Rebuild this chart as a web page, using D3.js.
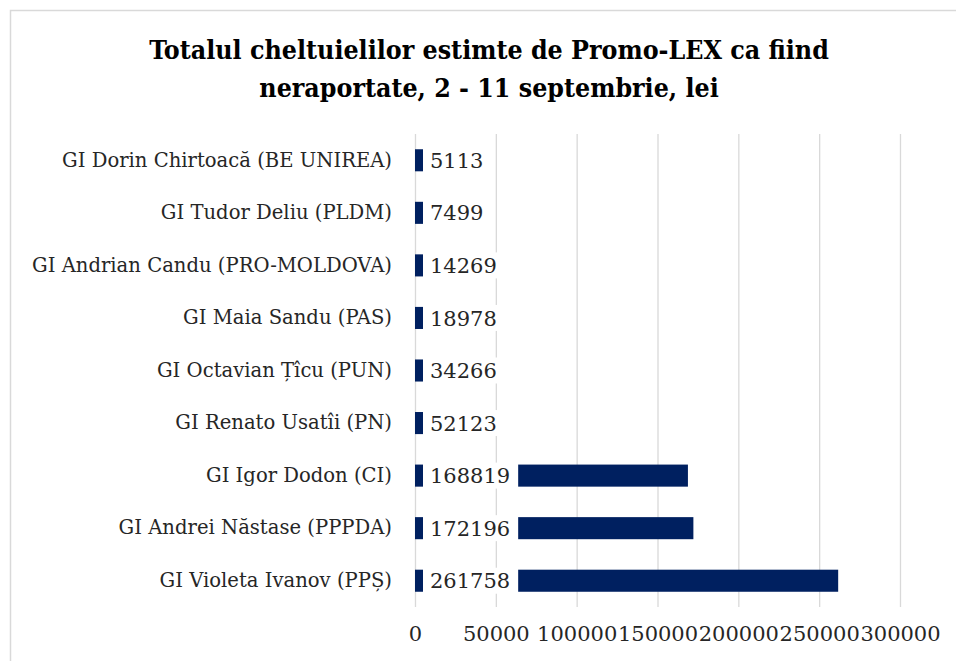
<!DOCTYPE html>
<html><head><meta charset="utf-8">
<script src="https://cdn.jsdelivr.net/npm/d3@7"></script>
<style>body{margin:0;background:#fff}svg{display:block}</style>
</head><body>
<script>
const categories = ["GI Dorin Chirtoacă (BE UNIREA)","GI Tudor Deliu (PLDM)","GI Andrian Candu (PRO-MOLDOVA)","GI Maia Sandu (PAS)","GI Octavian Țîcu (PUN)","GI Renato Usatîi (PN)","GI Igor Dodon (CI)","GI Andrei Năstase (PPPDA) ","GI Violeta Ivanov (PPȘ)"];
const values = [5113,7499,14269,18978,34266,52123,168819,172196,261758];
const tickValues = [0,50000,100000,150000,200000,250000,300000];
const titleLines = ["Totalul cheltuielilor estimte de Promo-LEX ca fiind","neraportate, 2 - 11 septembrie, lei"];

const W=956,H=661;
const svg=d3.select("body").append("svg").attr("width",W).attr("height",H);
svg.append("rect").attr("x",10.5).attr("y",10.5).attr("width",W).attr("height",H).attr("fill","#fff").attr("stroke","#d9d9d9").attr("stroke-width",1.5);

const serif="'DejaVu Serif', serif";
const title=svg.append("text").attr("text-anchor","middle").attr("font-family","'DejaVu Serif Condensed','DejaVu Serif',serif").attr("font-stretch","condensed").attr("font-weight","bold").attr("font-size",26.5).attr("fill","#000");
titleLines.forEach((t,i)=>title.append("tspan").attr("x",489).attr("y",59+i*38).text(t));

const x=d3.scaleLinear().domain([0,300000]).range([415,900]);
const y=d3.scaleBand().domain(categories).range([134,607]).paddingInner(0.58).paddingOuter(0.29);

const g=svg.append("g");
g.selectAll("line.grid").data(tickValues).join("line").attr("class","grid")
 .attr("x1",d=>x(d)+0.5).attr("x2",d=>x(d)+0.5).attr("y1",134).attr("y2",607)
 .attr("stroke","#d9d9d9").attr("stroke-width",1.3);

g.selectAll("rect.bar").data(values).join("rect").attr("class","bar")
 .attr("x",x(0)).attr("y",(d,i)=>y(categories[i])).attr("width",d=>x(d)-x(0)).attr("height",y.bandwidth())
 .attr("fill","#002060");

const lab=g.selectAll("g.lab").data(values).join("g").attr("class","lab");
lab.each(function(d,i){
  const gg=d3.select(this);
  const cy=y(categories[i])+y.bandwidth()/2;
  const r=gg.append("rect").attr("fill","#fff");
  const t=gg.append("text").attr("x",430).attr("y",cy).attr("dy","0.36em").attr("font-family",serif).attr("font-size",21).attr("fill","#262626").text(d);
  const w=t.node().getComputedTextLength();
  r.attr("x",423).attr("y",cy-13).attr("width",w+15).attr("height",26);
});

const yAxis=d3.axisLeft(y).tickSize(0).tickPadding(0);
const ya=svg.append("g").attr("transform","translate(392,0)").call(yAxis);
ya.select(".domain").remove();
ya.selectAll("text").attr("font-family",serif).attr("font-size",19.6).attr("fill","#262626");

const xAxis=d3.axisBottom(x).tickValues(tickValues).tickSize(0).tickPadding(0).tickFormat(d3.format("d"));
const xa=svg.append("g").attr("transform","translate(0,626)").call(xAxis);
xa.select(".domain").remove();
xa.selectAll("text").attr("font-family",serif).attr("font-size",21).attr("fill","#262626");
</script>
</body></html>
